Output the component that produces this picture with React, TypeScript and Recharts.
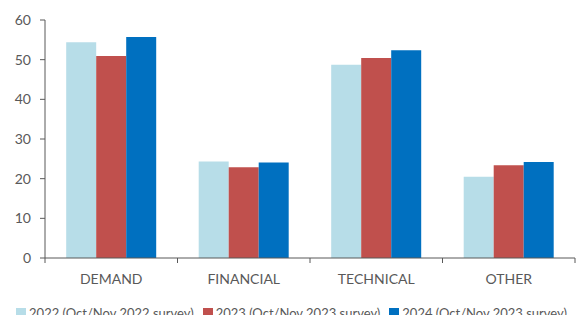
import { Bar, BarChart, Legend, XAxis, YAxis } from "recharts";

const categories = ["DEMAND", "FINANCIAL", "TECHNICAL", "OTHER"];
const survey2022 = [54.4, 24.3, 48.7, 20.5];
const survey2023 = [50.9, 22.9, 50.4, 23.4];
const survey2024 = [55.7, 24.1, 52.4, 24.2];
const yTicks = [0, 10, 20, 30, 40, 50, 60];

const data = categories.map((name, i) => ({
  name,
  y2022: survey2022[i],
  y2023: survey2023[i],
  y2024: survey2024[i],
}));

const W = 585;
const H = 323;
const M = { top: 20, right: 10, left: 0, bottom: 0 };
const Y_W = 45;
const band = (W - M.left - M.right - Y_W) / categories.length;
const axisColor = "#595959";
const font = "Lato, 'Open Sans', sans-serif";

function CategoryTick(props: any) {
  const { x, y, payload, index } = props;
  return (
    <g>
      <line x1={x - band / 2} y1={y - 8} x2={x - band / 2} y2={y - 3} stroke={axisColor} />
      {index === categories.length - 1 && (
        <line x1={x + band / 2} y1={y - 8} x2={x + band / 2} y2={y - 3} stroke={axisColor} />
      )}
      <text x={x} y={y + 18} textAnchor="middle" fill="#595959" fontSize={14} fontFamily={font}>
        {payload.value}
      </text>
    </g>
  );
}

function LegendRow(props: any) {
  const { payload } = props;
  return (
    <div
      style={{
        display: "flex",
        justifyContent: "center",
        gap: 9,
        whiteSpace: "nowrap",
        fontFamily: font,
        fontSize: 13,
        lineHeight: "20px",
        color: "#595959",
        paddingLeft: 8,
      }}>
      {payload.map((p: any) => (
        <div key={p.value} style={{ display: "flex", alignItems: "center" }}>
          <span style={{ width: 10, height: 10, background: p.color, marginRight: 3, display: "inline-block" }} />
          <span>{p.value}</span>
        </div>
      ))}
    </div>
  );
}

export default function App() {
  return (
    <div style={{ margin: -8, width: W, height: H, background: "#fff" }}>
      <BarChart
        width={W}
        height={H}
        data={data}
        margin={M}
        barGap={0}
        barCategoryGap="16%">
        <XAxis
          dataKey="name"
          tick={<CategoryTick />}
          tickLine={false}
          axisLine={{ stroke: axisColor }}
          height={45}
          interval={0}
        />
        <YAxis
          width={Y_W}
          domain={[0, 60]}
          ticks={yTicks}
          tickSize={5}
          tickMargin={9}
          axisLine={{ stroke: axisColor }}
          tickLine={{ stroke: axisColor }}
          tick={{ fill: "#595959", fontSize: 14, fontFamily: font }}
        />
        <Legend verticalAlign="bottom" height={20} content={<LegendRow />} />
        <Bar dataKey="y2022" name="2022 (Oct/Nov 2022 survey)" fill="#B7DDE8" isAnimationActive={false} />
        <Bar dataKey="y2023" name="2023 (Oct/Nov 2023 survey)" fill="#C0504D" isAnimationActive={false} />
        <Bar dataKey="y2024" name="2024 (Oct/Nov 2023 survey)" fill="#0070C0" isAnimationActive={false} />
      </BarChart>
    </div>
  );
}
